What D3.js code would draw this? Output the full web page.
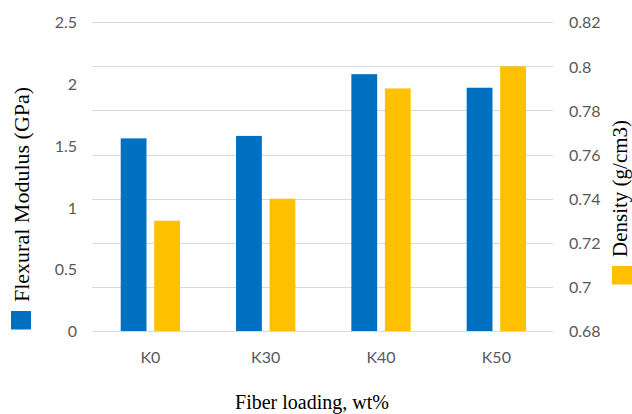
<!DOCTYPE html>
<html>
<head>
<meta charset="utf-8">
<script src="https://cdn.jsdelivr.net/npm/d3@7"></script>
<style>
  html, body { margin: 0; padding: 0; background: #fff; }
  svg { display: block; }
</style>
</head>
<body>
<svg id="chart" width="632" height="414"></svg>
<script>
const categories = ["K0", "K30", "K40", "K50"];
const modulus = [1.56, 1.58, 2.08, 1.97];
const density = [0.73, 0.74, 0.79, 0.80];
const leftTicks = [0, 0.5, 1, 1.5, 2, 2.5];
const rightTicks = [0.68, 0.70, 0.72, 0.74, 0.76, 0.78, 0.80, 0.82];

const svg = d3.select("#chart");
const plot = { left: 92.7, right: 554, top: 22.3, bottom: 331 };
const tickFont = "Lato, 'Open Sans', sans-serif";
const titleFont = "'Liberation Serif', 'Times New Roman', serif";
const tickColor = "#595959";

const x = d3.scaleBand().domain(categories).range([plot.left, plot.right]).padding(0);
const xs = d3.scaleBand().domain(["modulus", "density"]).range([28, x.bandwidth() - 28]).paddingInner(0.23);
const yL = d3.scaleLinear().domain([0, 2.5]).range([plot.bottom, plot.top]);
const yR = d3.scaleLinear().domain([0.68, 0.82]).range([plot.bottom, plot.top]);

// gridlines (from right axis)
svg.append("g").selectAll("line").data(rightTicks).join("line")
  .attr("x1", plot.left - 0.7).attr("x2", plot.right - 1)
  .attr("y1", d => Math.round(yR(d)) + 0.5).attr("y2", d => Math.round(yR(d)) + 0.5)
  .attr("stroke", "#d9d9d9").attr("stroke-width", 1.2);

// bars
const g = svg.append("g");
g.selectAll("rect.mod").data(categories).join("rect").attr("class", "mod")
  .attr("x", (c) => x(c) + xs("modulus"))
  .attr("width", xs.bandwidth())
  .attr("y", (c, i) => yL(modulus[i]))
  .attr("height", (c, i) => yL(0) - yL(modulus[i]))
  .attr("fill", "#0070C0");
g.selectAll("rect.den").data(categories).join("rect").attr("class", "den")
  .attr("x", (c) => x(c) + xs("density"))
  .attr("width", xs.bandwidth())
  .attr("y", (c, i) => yR(density[i]))
  .attr("height", (c, i) => yR(0.68) - yR(density[i]))
  .attr("fill", "#FFC000");

// left axis
const axL = d3.axisLeft(yL).tickValues(leftTicks).tickSize(0).tickPadding(0).tickFormat(d3.format("~g"));
const gL = svg.append("g").attr("transform", "translate(77,0)").call(axL);
gL.select(".domain").remove();
gL.selectAll("text").attr("font-family", tickFont).attr("font-size", 16).attr("fill", tickColor).attr("dy", "0.35em");

// right axis
const axR = d3.axisRight(yR).tickValues(rightTicks).tickSize(0).tickPadding(0).tickFormat(d3.format("~g"));
const gR = svg.append("g").attr("transform", "translate(569,0)").call(axR);
gR.select(".domain").remove();
gR.selectAll("text").attr("font-family", tickFont).attr("font-size", 16).attr("fill", tickColor).attr("dy", "0.35em");

// x axis
const axX = d3.axisBottom(x).tickSize(0).tickPadding(0);
const gX = svg.append("g").attr("transform", "translate(0,351)").call(axX);
gX.select(".domain").remove();
gX.selectAll("text").attr("font-family", tickFont).attr("font-size", 16).attr("fill", tickColor).attr("dy", "0.75em");

// x title
svg.append("text").attr("x", 312).attr("y", 409).attr("text-anchor", "middle")
  .attr("font-family", titleFont).attr("font-size", 20).attr("fill", "#000")
  .text("Fiber loading, wt%");

// left title + legend square
svg.append("rect").attr("x", 11).attr("y", 311).attr("width", 20).attr("height", 18.5).attr("fill", "#0070C0");
svg.append("text").attr("transform", "translate(29,302) rotate(-90)")
  .attr("text-anchor", "start")
  .attr("font-family", titleFont).attr("font-size", 22).attr("fill", "#000")
  .text("Flexural Modulus (GPa)");

// right title + legend square
svg.append("rect").attr("x", 612).attr("y", 266).attr("width", 20).attr("height", 18.5).attr("fill", "#FFC000");
svg.append("text").attr("transform", "translate(627,257) rotate(-90)")
  .attr("text-anchor", "start")
  .attr("font-family", titleFont).attr("font-size", 21).attr("fill", "#000")
  .text("Density (g/cm3)");
</script>
</body>
</html>
